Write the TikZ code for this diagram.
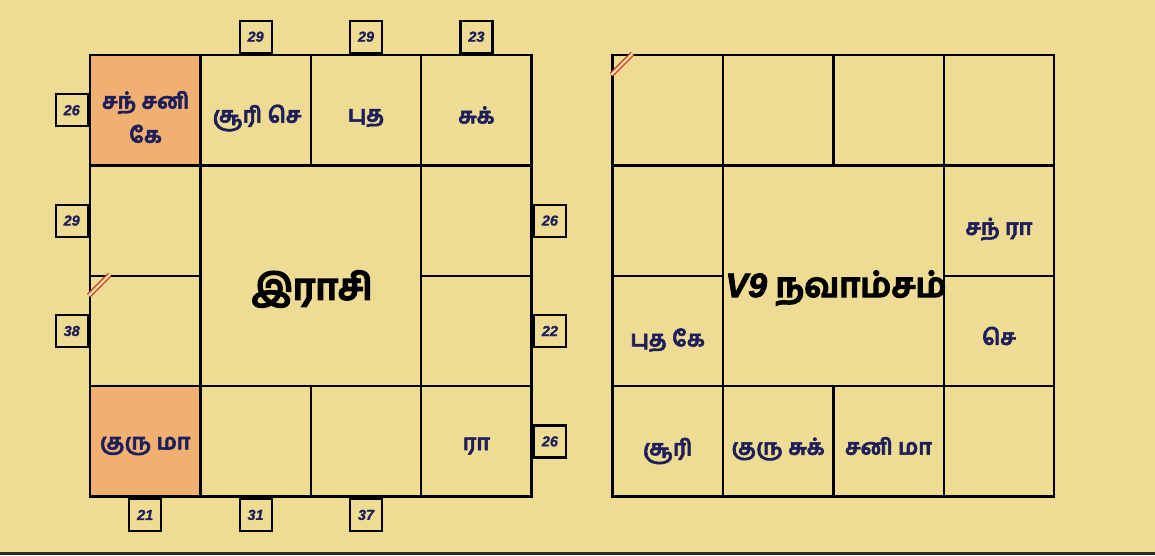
\documentclass[tikz,border=0pt]{standalone}
\usepackage{fontspec}
\newfontfamily\tamil[Script=Tamil, BoldFeatures={FakeBold=2.5}]{Hind Madurai}
\newfontfamily\tamilc[Script=Tamil, BoldFeatures={FakeBold=3.5}]{Hind Madurai}
\newfontfamily\latd[BoldItalicFeatures={FakeBold=1.2}]{Liberation Sans}
\newfontfamily\latc[BoldItalicFeatures={FakeBold=2.5}]{Liberation Sans}
\definecolor{bg}{HTML}{EEDC94}
\definecolor{hl}{HTML}{F0B072}
\definecolor{ink}{HTML}{1E1E5A}
\definecolor{hatchred}{HTML}{C4302A}
\definecolor{edge}{HTML}{2A2A22}
\tikzset{
  cell/.style={draw=black, line width=2.4pt, minimum size=110.4pt, inner sep=0pt},
  hcell/.style={cell, fill=hl},
  lab/.style={inner sep=0pt, align=center, text=ink, font=\tamil\bfseries\fontsize{22}{34}\selectfont},
  centre/.style={draw=black, line width=2.4pt, minimum size=220.8pt, inner sep=0pt},
  ctext/.style={inner sep=0pt, text=black},
  deg/.style={draw=black, line width=2.2pt, fill=bg, minimum width=32pt, minimum height=32pt,
    inner sep=0pt, text=ink, font=\latd\bfseries\itshape\fontsize{14.5}{14.5}\selectfont},
  hatch/.style={draw=hatchred, line width=1.2pt, double=bg, double distance=2.6pt}
}
\begin{document}
\begin{tikzpicture}[x=1pt,y=-1pt]
\fill[bg] (0,0) rectangle (1155,555);
\useasboundingbox (0,0) rectangle (1155,555);
\fill[edge] (0,551.5) rectangle (1155,555);
% ---------- left chart (Rasi) ----------
\node[hcell] (L11) at (145.2,110.2) {};
\node[cell]  (L12) at (255.6,110.2) {};
\node[cell]  (L13) at (366.0,110.2) {};
\node[cell]  (L14) at (476.4,110.2) {};
\node[cell]  (L21) at (145.2,220.6) {};
\node[cell]  (L24) at (476.4,220.6) {};
\node[cell]  (L31) at (145.2,331.0) {};
\node[cell]  (L34) at (476.4,331.0) {};
\node[hcell] (L41) at (145.2,441.4) {};
\node[cell]  (L42) at (255.6,441.4) {};
\node[cell]  (L43) at (366.0,441.4) {};
\node[cell]  (L44) at (476.4,441.4) {};
\node[centre] (LC) at (310.8,275.8) {};
\node[lab] (tL11) at (145.6,117) {சந் சனி\\கே};
\node[lab] (tL12) at (257,118) {சூரி செ};
\node[lab] (tL13) at (366,118) {புத};
\node[lab] (tL14) at (476.4,115) {சுக்};
\node[lab] (tL41) at (145.2,446) {குரு மா};
\node[lab] (tL44) at (476.4,446) {ரா};
\node[ctext, font=\tamilc\bfseries\fontsize{36.5}{40}\selectfont] (LCt) at (312,289) {இராசி};
\draw[hatch] ([yshift=-21pt]L31.north west) -- ([xshift=21pt]L31.north west);
% degree boxes
\node[deg, anchor=south] (dT2) at (L12.north) {29};
\node[deg, anchor=south] (dT3) at (L13.north) {29};
\node[deg, anchor=south] (dT4) at (L14.north) {23};
\node[deg, anchor=east] (dL1) at (L11.west) {26};
\node[deg, anchor=east] (dL2) at (L21.west) {29};
\node[deg, anchor=east] (dL3) at (L31.west) {38};
\node[deg, anchor=west] (dR2) at (L24.east) {26};
\node[deg, anchor=west] (dR3) at (L34.east) {22};
\node[deg, anchor=west] (dR4) at (L44.east) {26};
\node[deg, anchor=north] (dB1) at (L41.south) {21};
\node[deg, anchor=north] (dB2) at (L42.south) {31};
\node[deg, anchor=north] (dB3) at (L43.south) {37};
% ---------- right chart (Navamsa) ----------
\node[cell] (R11) at (667.7,110.2) {};
\node[cell] (R12) at (778.1,110.2) {};
\node[cell] (R13) at (888.5,110.2) {};
\node[cell] (R14) at (998.9,110.2) {};
\node[cell] (R21) at (667.7,220.6) {};
\node[cell] (R24) at (998.9,220.6) {};
\node[cell] (R31) at (667.7,331.0) {};
\node[cell] (R34) at (998.9,331.0) {};
\node[cell] (R41) at (667.7,441.4) {};
\node[cell] (R42) at (778.1,441.4) {};
\node[cell] (R43) at (888.5,441.4) {};
\node[cell] (R44) at (998.9,441.4) {};
\node[centre] (RC) at (833.3,275.8) {};
\node[lab] (tR24) at (998.9,229) {சந் ரா};
\node[lab] (tR34) at (998.9,336) {செ};
\node[lab] (tR31) at (667.7,340) {புத கே};
\node[lab] (tR41) at (667.7,451) {சூரி};
\node[lab] (tR42) at (778.1,449) {குரு சுக்};
\node[lab] (tR43) at (888.5,446) {சனி மா};
\node[ctext, font=\tamilc\bfseries\fontsize{34}{38}\selectfont] (RCt) at (836,288)
  {{\latc\bfseries\itshape V9} நவாம்சம்};
\draw[hatch] ([yshift=-21pt]R11.north west) -- ([xshift=21pt]R11.north west);
\end{tikzpicture}
\end{document}
